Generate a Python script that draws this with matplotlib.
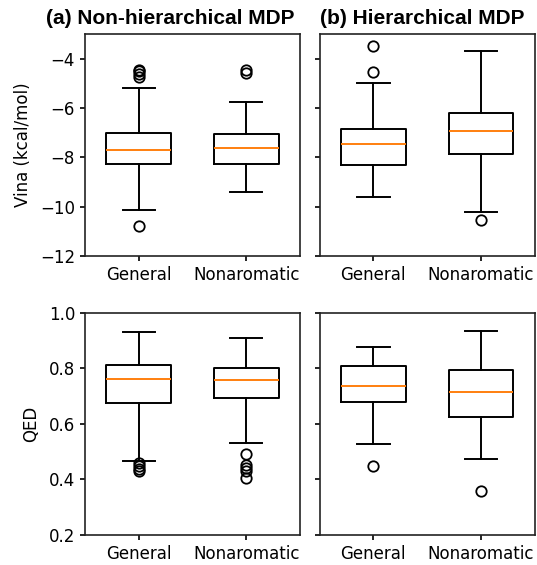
import matplotlib
matplotlib.use('Agg')
import matplotlib.pyplot as plt

groups = ['General', 'Nonaromatic']
panel_titles = ['(a) Non-hierarchical MDP', '(b) Hierarchical MDP']

# box summaries, order: General, Nonaromatic
vina_nonhier_med = [-7.70, -7.62]
vina_nonhier_q1 = [-8.27, -8.27]
vina_nonhier_q3 = [-7.03, -7.05]
vina_nonhier_lo = [-10.11, -9.41]
vina_nonhier_hi = [-5.19, -5.76]
vina_nonhier_fliers = [[-4.45, -4.52, -4.62, -4.73, -10.78], [-4.45, -4.6]]

vina_hier_med = [-7.44, -6.95]
vina_hier_q1 = [-8.31, -7.85]
vina_hier_q3 = [-6.86, -6.20]
vina_hier_lo = [-9.59, -10.19]
vina_hier_hi = [-4.97, -3.70]
vina_hier_fliers = [[-3.51, -4.54], [-10.52]]

qed_nonhier_med = [0.763, 0.759]
qed_nonhier_q1 = [0.674, 0.694]
qed_nonhier_q3 = [0.813, 0.800]
qed_nonhier_lo = [0.465, 0.532]
qed_nonhier_hi = [0.930, 0.908]
qed_nonhier_fliers = [[0.458, 0.448, 0.439, 0.432], [0.493, 0.452, 0.441, 0.432, 0.406]]

qed_hier_med = [0.735, 0.716]
qed_hier_q1 = [0.677, 0.623]
qed_hier_q3 = [0.810, 0.793]
qed_hier_lo = [0.528, 0.474]
qed_hier_hi = [0.875, 0.933]
qed_hier_fliers = [[0.448], [0.360]]


# Builds the stats dicts that ax.bxp wants
def make_stats(med, q1, q3, lo, hi, fliers):
    stats = []
    for i in range(len(groups)):
        stats.append({'label': groups[i], 'med': med[i], 'q1': q1[i], 'q3': q3[i],
                      'whislo': lo[i], 'whishi': hi[i], 'fliers': fliers[i]})
    return stats


panels = [
    [make_stats(vina_nonhier_med, vina_nonhier_q1, vina_nonhier_q3,
                vina_nonhier_lo, vina_nonhier_hi, vina_nonhier_fliers),
     make_stats(vina_hier_med, vina_hier_q1, vina_hier_q3,
                vina_hier_lo, vina_hier_hi, vina_hier_fliers)],
    [make_stats(qed_nonhier_med, qed_nonhier_q1, qed_nonhier_q3,
                qed_nonhier_lo, qed_nonhier_hi, qed_nonhier_fliers),
     make_stats(qed_hier_med, qed_hier_q1, qed_hier_q3,
                qed_hier_lo, qed_hier_hi, qed_hier_fliers)],
]

plt.rcParams['font.size'] = 12
plt.rcParams['axes.linewidth'] = 1.2
plt.rcParams['axes.edgecolor'] = '#222222'
plt.rcParams['xtick.major.width'] = 1.2
plt.rcParams['ytick.major.width'] = 1.2

fig, axes = plt.subplots(2, 2, figsize=(5.37, 5.65), dpi=100, sharey='row')
fig.subplots_adjust(left=0.158, right=0.996, top=0.940, bottom=0.053,
                    wspace=0.09, hspace=0.254)

lw = 1.4
for r in range(2):
    for c in range(2):
        ax = axes[r][c]
        ax.bxp(panels[r][c], widths=0.6, showfliers=True,
               boxprops=dict(linewidth=lw),
               whiskerprops=dict(linewidth=lw),
               capprops=dict(linewidth=lw),
               medianprops=dict(linewidth=lw, color='#ff7f0e'),
               flierprops=dict(marker='o', markersize=7.5, markeredgewidth=1.3,
                               markerfacecolor='none'))

axes[0][0].set_ylim(-12, -3)
axes[0][0].set_yticks([-12, -10, -8, -6, -4])
axes[1][0].set_ylim(0.2, 1.0)
axes[1][0].set_yticks([0.2, 0.4, 0.6, 0.8, 1.0])

axes[0][0].set_ylabel('Vina (kcal/mol)', labelpad=6)
axes[1][0].set_ylabel('QED', labelpad=6)

axes[0][0].text(-0.18, 1.045, panel_titles[0], transform=axes[0][0].transAxes,
                fontsize=15, fontweight='bold', family='Liberation Sans', va='baseline')
axes[0][1].text(0.0, 1.045, panel_titles[1], transform=axes[0][1].transAxes,
                fontsize=15, fontweight='bold', family='Liberation Sans', va='baseline')

fig.savefig('out.png', dpi=100)
